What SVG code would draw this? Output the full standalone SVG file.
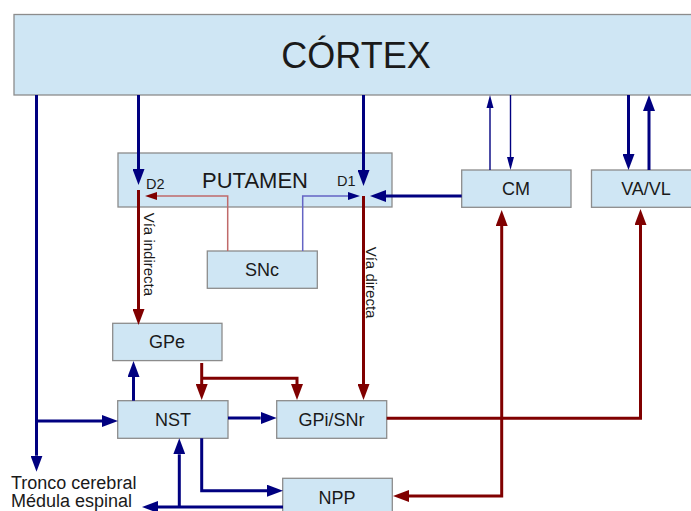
<svg xmlns="http://www.w3.org/2000/svg" width="691" height="511" viewBox="0 0 691 511">
<style>
.box{fill:#cfe6f4;stroke:#8c8c8c;stroke-width:1.3}
.lbl{font-family:"Liberation Sans",Arial,sans-serif;font-size:18px;fill:#1a1a1a;text-anchor:middle}
.sm{font-family:"Liberation Sans",Arial,sans-serif;fill:#1a1a1a}
.b{fill:none;stroke:#000080;stroke-width:3}
.r{fill:none;stroke:#800000;stroke-width:3}
.bt{fill:none;stroke:#000080;stroke-width:1.4}
.bl{fill:none;stroke:#6464c4;stroke-width:1.5}
.rl{fill:none;stroke:#c06a6a;stroke-width:1.5}
</style>
<defs>
<marker id="ab" markerUnits="userSpaceOnUse" markerWidth="16" markerHeight="12" refX="0" refY="6" orient="auto"><path d="M0,0 L16,6 L0,12 z" fill="#000080"/></marker>
<marker id="ar" markerUnits="userSpaceOnUse" markerWidth="16" markerHeight="12" refX="0" refY="6" orient="auto"><path d="M0,0 L16,6 L0,12 z" fill="#800000"/></marker>
<marker id="at" markerUnits="userSpaceOnUse" markerWidth="13" markerHeight="8" refX="0" refY="4" orient="auto"><path d="M0,0.5 L13,4 L0,7.5 z" fill="#000080"/></marker>
<marker id="abl" markerUnits="userSpaceOnUse" markerWidth="12" markerHeight="8" refX="0" refY="4" orient="auto"><path d="M0,0 L12,4 L0,8 z" fill="#000080"/></marker>
<marker id="arl" markerUnits="userSpaceOnUse" markerWidth="12" markerHeight="8" refX="0" refY="4" orient="auto"><path d="M0,0 L12,4 L0,8 z" fill="#800000"/></marker>
</defs>

<g id="cortex"><rect class="box" x="14" y="14.5" width="690" height="80.5"/><text class="sm" x="356" y="68" font-size="36" text-anchor="middle">CÓRTEX</text></g>
<g id="putamen"><rect class="box" x="118" y="153" width="274" height="54"/><text class="sm" x="255" y="188" font-size="22" text-anchor="middle">PUTAMEN</text><text class="sm" x="146" y="188.5" font-size="14.5">D2</text><text class="sm" x="337" y="186" font-size="14.5">D1</text></g>
<g id="cm"><rect class="box" x="461.7" y="170" width="109.3" height="37.3"/><text class="lbl" x="516" y="195">CM</text></g>
<g id="vavl"><rect class="box" x="591.5" y="170" width="110" height="37.3"/><text class="lbl" x="646" y="195">VA/VL</text></g>
<g id="snc"><rect class="box" x="207.3" y="251" width="110" height="37.3"/><text class="lbl" x="262" y="276">SNc</text></g>
<g id="gpe"><rect class="box" x="112.7" y="323.3" width="109.3" height="37.3"/><text class="lbl" x="167" y="348.3">GPe</text></g>
<g id="nst"><rect class="box" x="117.7" y="400.7" width="110.3" height="37.6"/><text class="lbl" x="173" y="426">NST</text></g>
<g id="gpisnr"><rect class="box" x="276.7" y="400.7" width="110" height="37.6"/><text class="lbl" x="331.5" y="426">GPi/SNr</text></g>
<g id="npp"><rect class="box" x="282.7" y="478.3" width="109.6" height="40"/><text class="lbl" x="337" y="504">NPP</text></g>
<g id="tronco"><text class="sm" x="11" y="489" font-size="18">Tronco cerebral</text><text class="sm" x="11" y="507" font-size="18">Médula espinal</text></g>

<g id="connectors">
<path class="b" d="M138.5,95 V169" marker-end="url(#ab)"/>
<path class="b" d="M363.5,95 V170" marker-end="url(#ab)"/>
<path class="b" d="M36.5,95 V455.7" marker-end="url(#ab)"/>
<path class="b" d="M36.5,421 H102" marker-end="url(#ab)"/>
<path class="bt" d="M490,170 V108" marker-end="url(#at)"/>
<path class="bt" d="M510.5,95 V157" marker-end="url(#at)"/>
<path class="b" d="M628.5,95 V154" marker-end="url(#ab)"/>
<path class="b" d="M649,170 V111" marker-end="url(#ab)"/>
<path class="b" d="M461.7,196 H386" marker-end="url(#ab)"/>
<path class="rl" d="M227.7,251 V196 H157" marker-end="url(#arl)"/>
<path class="bl" d="M302.7,251 V196 H348" marker-end="url(#abl)"/>
<path class="r" d="M138.5,190 V309" marker-end="url(#ar)"/>
<path class="r" d="M363.5,196 V384" marker-end="url(#ar)"/>
<path class="r" d="M201.7,363 V384" marker-end="url(#ar)"/>
<path class="r" d="M201.7,378.3 H297 V384" marker-end="url(#ar)"/>
<path class="b" d="M133.5,400.7 V377" marker-end="url(#ab)"/>
<path class="b" d="M228,418 H260.7" marker-end="url(#ab)"/>
<path class="r" d="M386.7,418.3 H640.5 V225" marker-end="url(#ar)"/>
<path class="r" d="M501.7,418.3 V226" marker-end="url(#ar)"/>
<path class="r" d="M501.7,418.3 V496 H409" marker-end="url(#ar)"/>
<path class="b" d="M201.7,438.3 V490.7 H267" marker-end="url(#ab)"/>
<path class="b" d="M283,507 H158" marker-end="url(#ab)"/>
<path class="b" d="M179.3,507 V454.3" marker-end="url(#ab)"/>
</g>
<g id="labels">
<text class="sm" font-size="15" transform="translate(143.5,212.7) rotate(90)">Vía indirecta</text>
<text class="sm" font-size="15" transform="translate(366,246.7) rotate(90)">Vía directa</text>
</g>
</svg>
